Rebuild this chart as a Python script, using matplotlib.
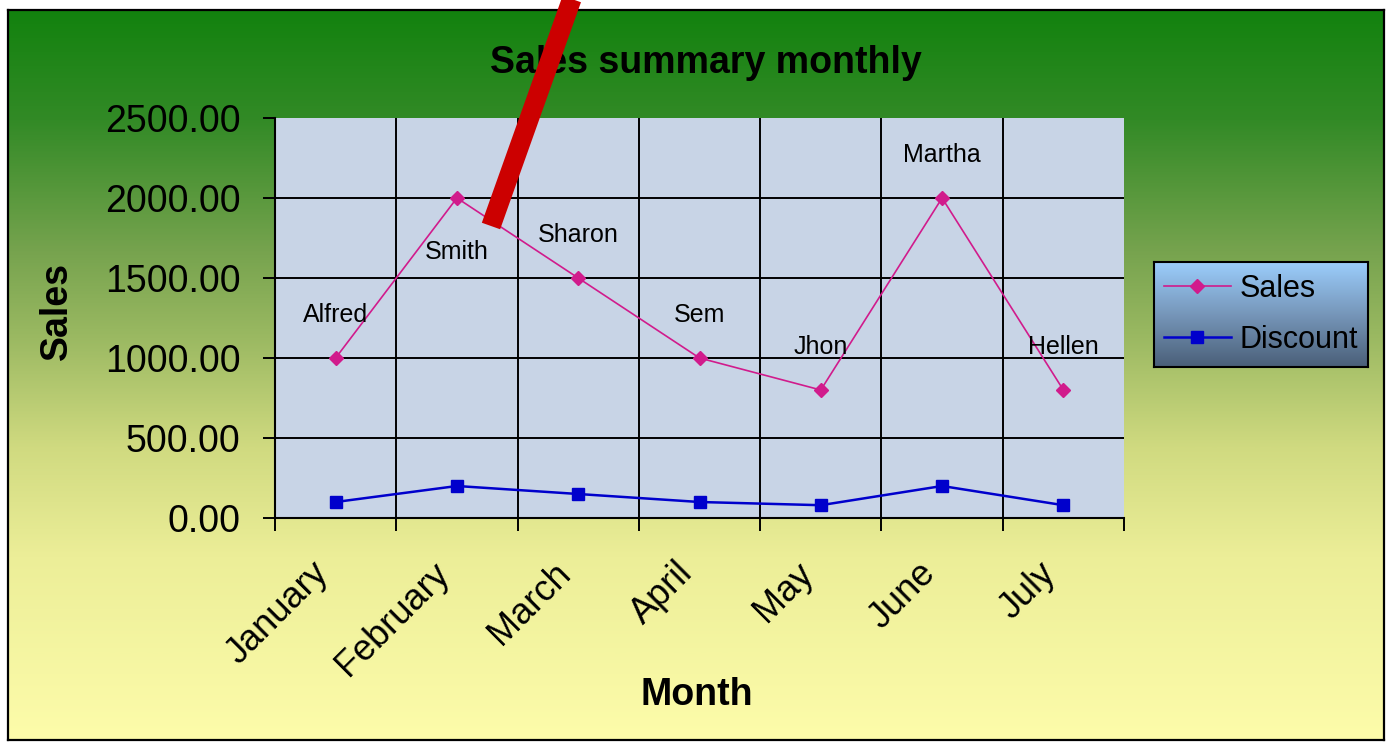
import numpy as np
import matplotlib
matplotlib.use("Agg")
import matplotlib.pyplot as plt
from matplotlib.colors import LinearSegmentedColormap
from matplotlib.lines import Line2D
from matplotlib.transforms import ScaledTranslation

# ---- data ----
months = ["January", "February", "March", "April", "May", "June", "July"]
sales = [1000, 2000, 1500, 1000, 800, 2000, 800]
discount = [100, 200, 150, 100, 80, 200, 80]
sellers = ["Alfred", "Smith", "Sharon", "Sem", "Jhon", "Martha", "Hellen"]
y_ticks = [0, 500, 1000, 1500, 2000, 2500]

plt.rcParams['font.family'] = ['Liberation Sans', 'DejaVu Sans']

W, H = 1390, 742
fig = plt.figure(figsize=(W / 100, H / 100), dpi=100, facecolor='white')


def rect(x0, y0, x1, y1):
    """pixel box (left, top, right, bottom) -> figure fraction rect"""
    return [x0 / W, 1 - y1 / H, (x1 - x0) / W, (y1 - y0) / H]


# ---- chart background: green-to-yellow gradient with black border ----
bg = fig.add_axes(rect(8, 10, 1384, 740), zorder=0)
bg_cmap = LinearSegmentedColormap.from_list("bg", [
    (0.00, (18 / 255, 130 / 255, 14 / 255)),
    (0.15, (50 / 255, 138 / 255, 38 / 255)),
    (0.33, (118 / 255, 163 / 255, 78 / 255)),
    (0.45, (155 / 255, 185 / 255, 98 / 255)),
    (0.60, (208 / 255, 218 / 255, 128 / 255)),
    (0.75, (236 / 255, 238 / 255, 152 / 255)),
    (1.00, (253 / 255, 252 / 255, 170 / 255)),
])
bg.imshow(np.linspace(0, 1, 512).reshape(-1, 1), aspect='auto', cmap=bg_cmap,
          extent=[0, 1, 1, 0], interpolation='bilinear')
bg.set_xlim(0, 1)
bg.set_ylim(1, 0)
bg.set_xticks([])
bg.set_yticks([])
for s in bg.spines.values():
    s.set_color('black')
    s.set_linewidth(1.6)

# ---- plot area ----
ax = fig.add_axes(rect(275, 118, 1124, 518), zorder=2)
ax.set_facecolor('#C8D4E6')
x = np.arange(len(months))
ax.set_xlim(-0.5, len(months) - 0.5)
ax.set_ylim(y_ticks[0], y_ticks[-1])

# grid: horizontal at inner value ticks, vertical at category boundaries
for yv in y_ticks[1:-1]:
    ax.axhline(yv, color='black', lw=1.4, zorder=1)
for xb in np.arange(0.5, len(months) - 1, 1.0):
    ax.axvline(xb, color='black', lw=1.4, zorder=1)

ax.plot(x, sales, color='#D11B8C', lw=1.2, marker='D', ms=7,
        label='Sales', zorder=3)
ax.plot(x, discount, color='#0000CC', lw=1.8, marker='s', ms=9,
        label='Discount', zorder=3)

# seller names next to each sales point
for i, (xi, yi, name) in enumerate(zip(x, sales, sellers)):
    dy = -39 if name == "Smith" else 31
    ax.annotate(name, (xi, yi), xytext=(0, dy), textcoords='offset points',
                ha='center', va='center', fontsize=18, zorder=4)

ax.spines['top'].set_visible(False)
ax.spines['right'].set_visible(False)
for s in ('left', 'bottom'):
    ax.spines[s].set_color('black')
    ax.spines[s].set_linewidth(1.5)

ax.set_yticks(y_ticks)
ax.set_yticklabels([f"{v:.2f}" for v in y_ticks])
ax.tick_params(axis='y', direction='out', length=9, width=1.4, pad=16,
               labelsize=27, colors='black')

# boundary ticks (major) and month labels (minor, at category centres)
ax.set_xticks(np.arange(-0.5, len(months), 1.0))
ax.set_xticklabels([])
ax.set_xticks(x, minor=True)
ax.set_xticklabels(months, minor=True, rotation=45, ha='right',
                   va='center', rotation_mode='anchor')
ax.tick_params(axis='x', which='major', direction='out', length=9, width=1.4)
ax.tick_params(axis='x', which='minor', length=0, pad=36, labelsize=26)
shift = ScaledTranslation(-9 / 72, 0, fig.dpi_scale_trans)
for lab in ax.get_xticklabels(minor=True):
    lab.set_transform(lab.get_transform() + shift)

# ---- titles ----
fig.text(706 / W, 1 - 63 / H, "Sales summary monthly", ha='center',
         va='center', fontsize=27, fontweight='bold', zorder=5)
fig.text(697 / W, 1 - 695 / H, "Month", ha='center', va='center',
         fontsize=27, fontweight='bold', zorder=5)
fig.text(57 / W, 1 - 311 / H, "Sales", ha='center', va='center',
         rotation=90, fontsize=27, fontweight='bold', zorder=5)

# ---- legend box with blue gradient ----
lg = fig.add_axes(rect(1154, 262, 1368, 367), zorder=3)
lg_cmap = LinearSegmentedColormap.from_list("lg", [
    (0.0, (155 / 255, 205 / 255, 252 / 255)),
    (0.5, (118 / 255, 150 / 255, 185 / 255)),
    (1.0, (74 / 255, 95 / 255, 120 / 255)),
])
lg.imshow(np.linspace(0, 1, 256).reshape(-1, 1), aspect='auto', cmap=lg_cmap,
          extent=[0, 1, 1, 0], interpolation='bilinear')
lg.set_xlim(0, 1)
lg.set_ylim(1, 0)
lg.set_xticks([])
lg.set_yticks([])
for s in lg.spines.values():
    s.set_color('black')
    s.set_linewidth(1.5)
handles, labels = ax.get_legend_handles_labels()
lg.legend(handles, labels, loc='center', frameon=False, fontsize=22,
          handlelength=2.2, handletextpad=0.3, borderpad=0.1,
          labelspacing=0.68)

# ---- red pointer stroke ----
fig.add_artist(Line2D([575 / W, 491 / W], [1 + 10 / H, 1 - 226 / H],
                      color='#CC0000', lw=14, solid_capstyle='butt',
                      zorder=10))

fig.savefig("out.png", dpi=100, facecolor='white')
